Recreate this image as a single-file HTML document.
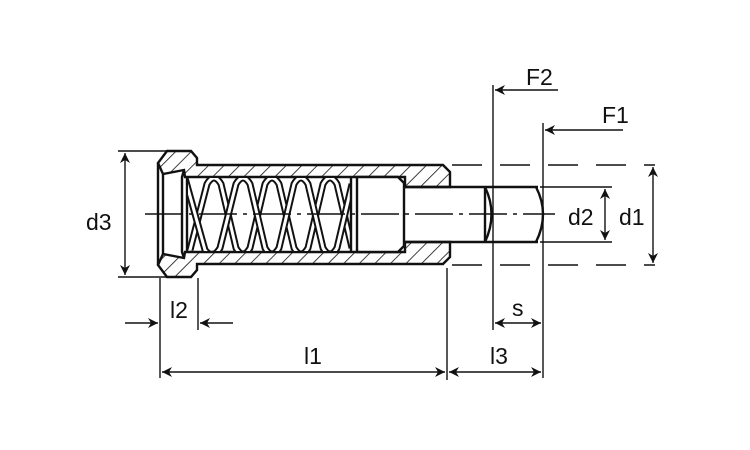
<!DOCTYPE html>
<html><head><style>
html,body{margin:0;padding:0;background:#fff}
svg{display:block}
text{font-family:"Liberation Sans",sans-serif;font-size:23px;fill:#111}
</style></head><body>
<svg width="750" height="450" viewBox="0 0 750 450" xmlns="http://www.w3.org/2000/svg">
<defs>
<pattern id="h" patternUnits="userSpaceOnUse" width="11" height="11" patternTransform="rotate(45)">
<rect width="11" height="11" fill="#fff"/>
<line x1="0" y1="0" x2="0" y2="11" stroke="#111" stroke-width="1.6"/>
</pattern>
<marker id="a" viewBox="0 0 10 10" refX="10" refY="5" markerWidth="10" markerHeight="10" orient="auto-start-reverse" markerUnits="userSpaceOnUse">
<path d="M0,0 L10,5 L0,10 L3,5 Z" fill="#111"/>
</marker>
<clipPath id="c"><rect x="188" y="178" width="162" height="73"/></clipPath>
</defs>
<g stroke="#111" fill="none" stroke-width="2.4">
<path fill="url(#h)" d="M158,163 L167,151 L191,151 L197,158 L197,165 L443,165 L450,172 L450,187 L405,187 L405,177 L185,177 L184,170 L163,174 Z"/>
<path fill="url(#h)" d="M158,265 L167,277 L191,277 L197,270 L197,264 L443,264 L450,257 L450,242 L405,242 L405,252 L185,252 L184,258 L163,254 Z"/>
<path d="M163,174 L163,254 M184,170 L182,177 L182,252 L184,258"/>
<path d="M158,163 L158,265"/>
<path d="M187,177 L187,252"/>
<path d="M357,177 L398,177 L404,183 L404,246 L398,252 L357,252 Z" fill="#fff"/>
<path d="M485,187 L485,242"/>
<path d="M405,187 L538,187 M405,242 L538,242"/>
<path d="M485,187 Q498,214 485,242"/>
<path d="M536,187 Q550,214 536,242"/>
</g>
<g clip-path="url(#c)" fill="none" stroke-linejoin="round">
<path id="s1" d="M185,178 L205,250 Q213,260 220,248 L236,184 Q243,172 250,184 L265,248 Q272,260 279,248 L294,184 Q301,172 308,184 L323,248 Q330,260 337,248 L352,184"/>
<path id="s2" d="M190,250 L207,184 Q214,172 221,184 L236,248 Q243,260 250,248 L265,184 Q272,172 279,184 L294,248 Q301,260 308,248 L323,184 Q330,172 337,184 L352,248"/>
<use href="#s2" stroke="#111" stroke-width="7"/>
<use href="#s2" stroke="#fff" stroke-width="3"/>
<use href="#s1" stroke="#111" stroke-width="7"/>
<use href="#s1" stroke="#fff" stroke-width="3"/>
</g>
<g stroke="#111" fill="none" stroke-width="2.4">
<path d="M351,177 L351,252"/>
</g>
<g stroke="#111" fill="none" stroke-width="1.4">
<path d="M145,214 L555,214" stroke-dasharray="38,6,4,6"/>
<path d="M452,165 L655,165 M452,265 L655,265" stroke-dasharray="30,18"/>
<path d="M540,187 L612,187 M540,242 L612,242"/>
<path d="M118,151 L168,151 M118,277 L168,277"/>
<path d="M125,153 L125,275" marker-start="url(#a)" marker-end="url(#a)"/>
<path d="M605,189 L605,240" marker-start="url(#a)" marker-end="url(#a)"/>
<path d="M653,167 L653,263" marker-start="url(#a)" marker-end="url(#a)"/>
<path d="M493,85 L493,330 M543,123 L543,378"/>
<path d="M558,90 L495,90" marker-end="url(#a)"/>
<path d="M623,130 L545,130" marker-end="url(#a)"/>
<path d="M160,278 L160,378 M198,278 L198,330 M447,268 L447,380"/>
<path d="M125,323 L158,323" marker-end="url(#a)"/>
<path d="M233,323 L200,323" marker-end="url(#a)"/>
<path d="M162,372 L445,372" marker-start="url(#a)" marker-end="url(#a)"/>
<path d="M449,372 L541,372" marker-start="url(#a)" marker-end="url(#a)"/>
<path d="M495,323 L541,323" marker-start="url(#a)" marker-end="url(#a)"/>
</g>
<text x="86" y="230">d3</text>
<text x="568" y="225">d2</text>
<text x="619" y="225">d1</text>
<text x="526" y="85">F2</text>
<text x="602" y="123">F1</text>
<text x="170" y="318">l2</text>
<text x="304" y="364">l1</text>
<text x="490" y="364">l3</text>
<text x="512" y="316">s</text>
</svg>
</body></html>
